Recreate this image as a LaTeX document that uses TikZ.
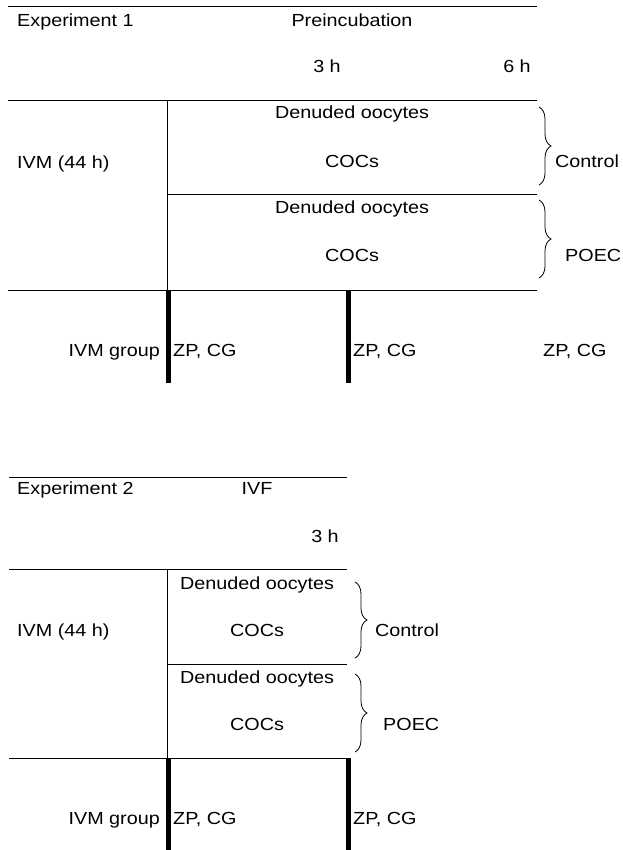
\documentclass[tikz,border=0pt]{standalone}
\usepackage{fontspec}
\setmainfont{Liberation Sans}[FakeStretch=1.13]
\usetikzlibrary{decorations.pathreplacing}

\begin{document}
\begin{tikzpicture}[
    x=1pt, y=-1pt,
    font=\fontsize{17.5}{21}\selectfont,
    txt/.style={anchor=base west, inner sep=0pt},
    mid/.style={anchor=base, inner sep=0pt},
    rgt/.style={anchor=base east, inner sep=0pt},
    rule/.style={line width=1pt},
    bar/.style={line width=5pt},
    grp/.style={decorate, decoration={brace, amplitude=12pt}, line width=0.8pt}
  ]
  \useasboundingbox (0,0) rectangle (622,850);

  % experiment 1
  \node[txt] (exa) at (17,27) {Experiment 1};
  \node[mid] (prea) at (352,27) {Preincubation};
  \node[mid] (tha) at (327,73) {3 h};
  \node[mid] (sha) at (517,73) {6 h};
  \node[txt] (ivma) at (17,169) {IVM (44 h)};
  \node[mid] (dena) at (352,119) {Denuded oocytes};
  \node[mid] (coca) at (352,168) {COCs};
  \node[mid] (denb) at (352,214) {Denuded oocytes};
  \node[mid] (cocb) at (352,261) {COCs};
  \node[txt] (cona) at (555,168) {Control};
  \node[txt] (poea) at (565,261) {POEC};
  \node[rgt] (grpa) at (160,356) {IVM group};
  \node[txt] (zpa) at (173,356) {ZP, CG};
  \node[txt] (zpb) at (353,356) {ZP, CG};
  \node[txt] (zpc) at (543,356) {ZP, CG};

  \draw[rule] (8,7) -- (537,7);
  \draw[rule] (8,101) -- (537,101);
  \draw[rule] (167,101) -- (167,290);
  \draw[rule] (167,195) -- (537,195);
  \draw[rule] (8,290) -- (537,290);
  \draw[bar] (168,290) -- (168,383);
  \draw[bar] (348,290) -- (348,383);
  \draw[grp] (539,107) -- (539,185);
  \draw[grp] (539,200) -- (539,278);

  % experiment 2
  \node[txt] (exb) at (17,494) {Experiment 2};
  \node[mid] (ivf) at (257,494) {IVF};
  \node[mid] (thb) at (325,542) {3 h};
  \node[txt] (ivmb) at (17,636) {IVM (44 h)};
  \node[mid] (denc) at (257,589) {Denuded oocytes};
  \node[mid] (cocc) at (257,636) {COCs};
  \node[mid] (dend) at (257,683) {Denuded oocytes};
  \node[mid] (cocd) at (257,730) {COCs};
  \node[txt] (conb) at (375,636) {Control};
  \node[txt] (poeb) at (383,730) {POEC};
  \node[rgt] (grpb) at (160,824) {IVM group};
  \node[txt] (zpd) at (173,824) {ZP, CG};
  \node[txt] (zpe) at (353,824) {ZP, CG};

  \draw[rule] (9,477) -- (347,477);
  \draw[rule] (9,569) -- (347,569);
  \draw[rule] (167,569) -- (167,758);
  \draw[rule] (167,664) -- (347,664);
  \draw[rule] (9,758) -- (347,758);
  \draw[bar] (168,758) -- (168,850);
  \draw[bar] (348,758) -- (348,850);
  \draw[grp] (355,582) -- (355,658);
  \draw[grp] (355,674) -- (355,752);
\end{tikzpicture}
\end{document}
